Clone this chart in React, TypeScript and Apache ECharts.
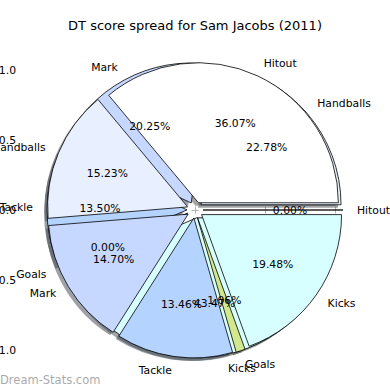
import React, { useEffect, useRef } from 'react';
import * as echarts from 'echarts';

const chartTitle = 'DT score spread for Sam Jacobs (2011)';
const watermark = 'Dream-Stats.com';

// Top pie (drawn last)
const categoriesA = ['Hitout', 'Handballs', 'Mark', 'Tackle', 'Goals', 'Kicks'];
const valuesA = [36.07, 15.23, 14.70, 13.46, 1.06, 19.48];

// Bottom pie (drawn first)
const categoriesB = ['Handballs', 'Mark', 'Tackle', 'Goals', 'Kicks', 'Hitout'];
const valuesB = [22.78, 20.25, 13.50, 0.0, 43.47, 0.0];

const categoryColors: Record<string, [number, number, number]> = {
  Hitout: [255, 255, 255],
  Handballs: [232, 240, 255],
  Mark: [198, 216, 255],
  Tackle: [180, 211, 255],
  Goals: [210, 232, 140],
  Kicks: [216, 255, 255],
};

const tickValues = [-1, -0.5, 0, 0.5, 1];

const FONT = "'DejaVu Sans', sans-serif";
const LABEL_SIZE = 10.8;
const CENTER = [195, 210];
const SHADOW_CENTER = [192, 213];
const R = 140;
const EXPLODE = 8;

const rgb = (c: [number, number, number]) => `rgb(${c[0]},${c[1]},${c[2]})`;
const shadowOf = (c: [number, number, number]) =>
  `rgba(${Math.round(c[0] * 0.3)},${Math.round(c[1] * 0.3)},${Math.round(c[2] * 0.3)},0.5)`;

const fmtTick = (v: number) => (v < 0 ? '\u2212' : '') + Math.abs(v).toFixed(1);

const common = {
  type: 'pie',
  startAngle: 0,
  clockwise: false,
  avoidLabelOverlap: false,
  selectedMode: 'multiple',
  selectedOffset: EXPLODE,
  silent: true,
  emphasis: { disabled: true },
  labelLayout: { hideOverlap: false },
};

function shadowSeries(names: string[], values: number[]) {
  return {
    ...common,
    center: SHADOW_CENTER,
    radius: [0, R],
    label: { show: false },
    labelLine: { show: false },
    data: names.map((n, i) => {
      const col = shadowOf(categoryColors[n]);
      return {
        name: n,
        value: values[i],
        selected: true,
        itemStyle: { color: col, borderWidth: 0 },
        select: { itemStyle: { color: col, borderWidth: 0 } },
      };
    }),
  };
}

function wedgeSeries(names: string[], values: number[]) {
  return {
    ...common,
    center: CENTER,
    radius: [0, R],
    itemStyle: { borderColor: '#000', borderWidth: 0.8 },
    label: {
      show: true,
      position: 'outside',
      formatter: '{b}',
      fontFamily: FONT,
      fontSize: LABEL_SIZE,
      color: '#000',
      distanceToLabelLine: 0,
    },
    labelLine: { show: false, length: 0.1 * R, length2: 0 },
    data: names.map((n, i) => ({
      name: n,
      value: values[i],
      selected: true,
      itemStyle: { color: rgb(categoryColors[n]) },
      select: { itemStyle: { color: rgb(categoryColors[n]), borderColor: '#000', borderWidth: 0.8 } },
    })),
  };
}

function pctSeries(names: string[], values: number[]) {
  return {
    ...common,
    center: CENTER,
    radius: [0.2 * R, R],
    itemStyle: { color: 'rgba(0,0,0,0)', borderWidth: 0 },
    label: {
      show: true,
      position: 'inside',
      formatter: (p: any) => Number(p.value).toFixed(2) + '%',
      fontFamily: FONT,
      fontSize: LABEL_SIZE,
      color: '#000',
      align: 'center',
      verticalAlign: 'middle',
    },
    labelLine: { show: false },
    data: names.map((n, i) => ({
      name: n,
      value: values[i],
      selected: true,
      select: { itemStyle: { color: 'rgba(0,0,0,0)', borderWidth: 0 } },
    })),
  };
}

export default function App() {
  const ref = useRef<HTMLDivElement>(null);
  useEffect(() => {
    const chart = echarts.init(ref.current!, null, { renderer: 'svg' });
    const tickStyle = { show: true, inside: true, length: 3.5, lineStyle: { color: '#b0b0b0', width: 1 }, customValues: tickValues };
    const labelStyle = { fontFamily: FONT, fontSize: LABEL_SIZE, color: '#000', margin: 4, customValues: tickValues, formatter: fmtTick };
    const baseAxis = {
      type: 'value',
      min: -1.25,
      max: 1.25,
      axisLine: { show: false },
      splitLine: { show: false },
      axisTick: tickStyle,
    };
    chart.setOption({
      animation: false,
      backgroundColor: '#ffffff',
      grid: { left: 20, right: 20, top: 35, bottom: 5, containLabel: false, outerBoundsMode: 'none' },
      xAxis: [
        { ...baseAxis, position: 'bottom', axisLabel: labelStyle },
        { ...baseAxis, position: 'top', axisLabel: { show: false } },
      ],
      yAxis: [
        { ...baseAxis, position: 'left', axisLabel: labelStyle },
        { ...baseAxis, position: 'right', axisLabel: { show: false } },
      ],
      graphic: [
        {
          type: 'text',
          x: 195,
          y: 25,
          style: { text: chartTitle, font: `13px ${FONT}`, fill: '#000', textAlign: 'center', textVerticalAlign: 'middle' },
        },
        {
          type: 'text',
          x: 0,
          y: 380,
          z: 100,
          style: { text: watermark, font: `11.5px ${FONT}`, fill: 'rgba(140,140,140,0.75)', textAlign: 'left', textVerticalAlign: 'middle' },
        },
      ],
      series: [
        { type: 'scatter', data: [], xAxisIndex: 0, yAxisIndex: 0 },
        shadowSeries(categoriesB, valuesB),
        shadowSeries(categoriesA, valuesA),
        wedgeSeries(categoriesB, valuesB),
        wedgeSeries(categoriesA, valuesA),
        pctSeries(categoriesB, valuesB),
        pctSeries(categoriesA, valuesA),
      ],
    });
    return () => chart.dispose();
  }, []);
  return <div ref={ref} style={{ width: 390, height: 390, position: 'absolute', left: 0, top: 0 }} />;
}
